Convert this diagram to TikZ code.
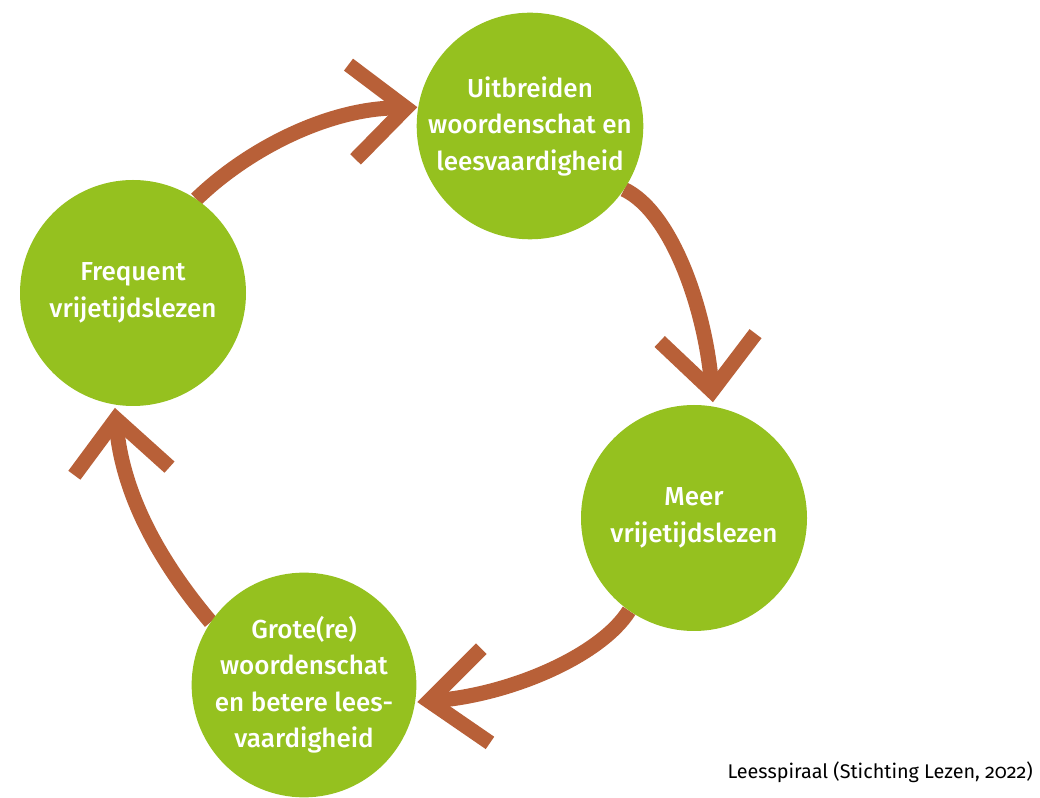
\documentclass[tikz,border=0pt]{standalone}
\usepackage{fontspec}
\setmainfont{Fira Sans}[Numbers=OldStyle]
\newfontfamily\circfont{Fira Sans Medium}
\usetikzlibrary{calc,backgrounds}
\definecolor{leafgreen}{RGB}{149,193,31}
\definecolor{rust}{RGB}{184,96,56}
\tikzset{
  bubble/.style={circle,fill=leafgreen,draw=none,minimum size=226pt,inner sep=0pt,
    align=center,text=white,font=\circfont\fontsize{26}{36.5}\selectfont},
  arrowline/.style={draw=rust,line width=15pt,line cap=butt,line join=miter,miter limit=10},
}
\begin{document}
\begin{tikzpicture}[x=1pt,y=1pt]
\useasboundingbox (0,0) rectangle (1040,797);
\node[bubble] (U) at (530,671) {Uitbreiden\\woordenschat en\\leesvaardigheid};
\node[bubble] (F) at (133,504) {Frequent\\vrijetijdslezen};
\node[bubble] (M) at (694,279) {Meer\\vrijetijdslezen};
\node[bubble,minimum size=224pt] (G) at (304,112) {Grote(re)\\woordenschat\\en betere lees-\\vaardigheid};
\coordinate (t1) at (406,689);
\coordinate (t2) at (712,406);
\coordinate (t3) at (429,96);
\coordinate (t4) at (116,378);
\begin{scope}[on background layer]
  \fill[white] (0,0) rectangle (1040,797);
  \draw[arrowline] (F.56) .. controls (250,650) and (335,692) .. (t1);
  \draw[arrowline] ($(t1)+(143:72)$) -- (t1) -- ($(t1)+(225.5:72)$);
  \draw[arrowline] (U.-34.5) .. controls (672,585) and (707,485) .. (t2);
  \draw[arrowline] ($(t2)+(136.6:72)$) -- (t2) -- ($(t2)+(52.8:72)$);
  \draw[arrowline] (M.235) .. controls (600,140) and (505,100) .. (t3);
  \draw[arrowline] ($(t3)+(45:74)$) -- (t3) -- ($(t3)+(-34.5:74)$);
  \draw[arrowline] (G.146.6) .. controls (160,235) and (120,305) .. (t4);
  \draw[arrowline] ($(t4)+(233.5:70)$) -- (t4) -- ($(t4)+(318:72)$);
\end{scope}
\node[anchor=base east,inner sep=0pt,font=\fontsize{19.8}{24}\selectfont] (cap) at (1033,19) {Leesspiraal (Stichting Lezen, 2022)};
\end{tikzpicture}
\end{document}
